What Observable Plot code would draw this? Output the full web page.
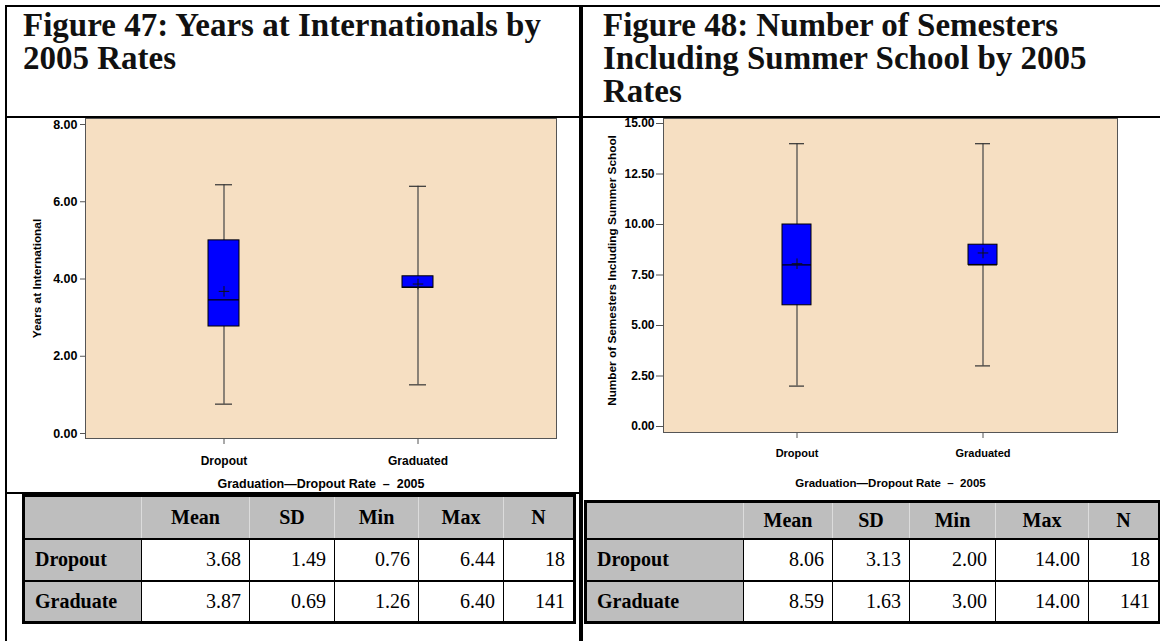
<!DOCTYPE html>
<html>
<head>
<meta charset="utf-8">
<script src="https://cdn.jsdelivr.net/npm/d3@7"></script>
<script src="https://cdn.jsdelivr.net/npm/@observablehq/plot@0.6"></script>
<style>
html, body { margin: 0; padding: 0; background: #fff; }
#page { position: relative; width: 1160px; height: 641px; overflow: hidden; background: #fff; }
.line { position: absolute; background: #000; }
.title { position: absolute; top: 9px; font-family: "Liberation Serif", "Times New Roman", serif; font-weight: bold; font-size: 33px; line-height: 33px; white-space: nowrap; color: #111; }
.chart { position: absolute; top: 118px; }
.chart svg { overflow: visible; }
table.stats { position: absolute; border-collapse: collapse; table-layout: fixed; font-family: "Liberation Serif", "Times New Roman", serif; font-size: 20px; color: #000; border: 3px solid #000; }
table.stats th, table.stats td { padding: 0; border: 1px solid #000; border-top-width: 2px; border-bottom-width: 2px; vertical-align: middle; }
table.stats th { background: #BEBEBE; font-weight: bold; text-align: center; border-left-color: #dcdcdc; border-right-color: #dcdcdc; }
table.stats td.lab { background: #BEBEBE; font-weight: bold; text-align: left; padding-left: 10px; }
table.stats td.num { text-align: right; padding-right: 8px; background: #fff; }
</style>
</head>
<body>
<div id="page">
  <div class="title" style="left:23px">Figure 47: Years at Internationals by<br>2005 Rates</div>
  <div class="title" style="left:603px">Figure 48: Number of Semesters<br>Including Summer School by 2005<br>Rates</div>
  <div class="chart" id="chart47" style="left:7px"></div>
  <div class="chart" id="chart48" style="left:584px"></div>
  <table class="stats" id="table47" style="left:22px; top:494px; width:551px"></table>
  <table class="stats" id="table48" style="left:584px; top:500px; width:574px"></table>
  <div class="line" style="left:5px; top:5px; width:1155px; height:2px"></div>
  <div class="line" style="left:5px; top:5px; width:2px; height:636px"></div>
  <div class="line" style="left:579px; top:5px; width:4px; height:636px"></div>
  <div class="line" style="left:5px; top:116px; width:1155px; height:2px"></div>
  <div class="line" style="left:5px; top:492px; width:576px; height:2px"></div>
</div>
<script>
// ---- Data ----
const groups = ["Dropout", "Graduated"];

// Figure 47: Years at International (box plot statistics)
const yearsMin = [0.76, 1.26];
const yearsQ1 = [2.77, 3.77];
const yearsMedian = [3.46, 3.79];
const yearsQ3 = [5.00, 4.07];
const yearsMax = [6.44, 6.40];
const yearsMean = [3.68, 3.87];
const yearsTicks = [0, 2, 4, 6, 8];

// Figure 48: Number of Semesters Including Summer School
const semMin = [2, 3];
const semQ1 = [6, 8];
const semMedian = [8, 8];
const semQ3 = [10, 9];
const semMax = [14, 14];
const semMean = [8.06, 8.59];
const semTicks = [0, 2.5, 5, 7.5, 10, 12.5, 15];

// Summary tables
const tableRows = ["Dropout", "Graduate"];
const tableCols = ["Mean", "SD", "Min", "Max", "N"];
const fig47Table = [["3.68", "1.49", "0.76", "6.44", "18"], ["3.87", "0.69", "1.26", "6.40", "141"]];
const fig48Table = [["8.06", "3.13", "2.00", "14.00", "18"], ["8.59", "1.63", "3.00", "14.00", "141"]];
const fig47ColWidths = [118, 108, 85, 84, 85, 71];
const fig48ColWidths = [158, 89, 77, 86, 93, 71];

const xTitle = "Graduation\u2014Dropout Rate\u00a0\u00a0\u2013\u00a0\u00a02005";

function rowsOf(mn, q1, med, q3, mx, mean) {
  return groups.map((g, i) => ({group: g, min: mn[i], q1: q1[i], median: med[i], q3: q3[i], max: mx[i], mean: mean[i]}));
}

function boxChart(o) {
  const rows = o.rows;
  return Plot.plot({
    width: o.width, height: o.height,
    marginTop: 0, marginLeft: o.marginLeft, marginRight: o.marginRight, marginBottom: o.marginBottom,
    style: {fontFamily: "'Liberation Sans', Arial, sans-serif", fontSize: o.fontSize + "px", fontWeight: "bold", background: "transparent", color: "#000"},
    x: {type: "band", domain: groups, paddingInner: o.pi, paddingOuter: o.po, label: null},
    y: {domain: o.domain, insetTop: o.insetTop, insetBottom: o.insetBottom, label: null},
    marks: [
      Plot.frame({fill: "#F6DFC2", stroke: "#555"}),
      Plot.axisY({ticks: o.ticks, tickFormat: d3.format(".2f"), tickSize: o.yTickSize, tickPadding: o.yTickPadding, stroke: "#555", fontSize: o.yTickFont, label: null}),
      Plot.axisX({tickSize: 6, tickPadding: o.xTickPadding, stroke: "#555", label: null}),
      Plot.ruleX(rows, {x: "group", y1: "min", y2: "max", stroke: "#444", strokeWidth: 1.2}),
      Plot.barY(rows, {x: "group", y1: "q1", y2: "q3", fill: "#0000FF", stroke: "#000", strokeWidth: 1}),
      Plot.tickY(rows, {x: "group", y: "median", stroke: "#000", strokeWidth: 1.2}),
      Plot.tickY(rows, {x: "group", y: "min", stroke: "#333", strokeWidth: 1.2, insetLeft: 7, insetRight: 7}),
      Plot.tickY(rows, {x: "group", y: "max", stroke: "#333", strokeWidth: 1.2, insetLeft: 7, insetRight: 7}),
      Plot.dot(rows, {x: "group", y: "mean", symbol: "plus", r: 3.5, stroke: "#111", strokeWidth: 1}),
      Plot.text([xTitle], {text: d => d, frameAnchor: "bottom", dy: o.xTitleDy, fontSize: o.fontSize + 0.5, lineAnchor: "middle", textAnchor: "middle"}),
      Plot.text([o.yLabel], {text: d => d, frameAnchor: "left", rotate: -90, dx: o.yLabelDx, dy: o.yLabelDy, fontSize: o.yLabelSize, lineAnchor: "middle", textAnchor: "middle"})
    ]
  });
}

document.getElementById("chart47").appendChild(boxChart({
  rows: rowsOf(yearsMin, yearsQ1, yearsMedian, yearsQ3, yearsMax, yearsMean),
  width: 572, height: 375, marginLeft: 78, marginRight: 23, marginBottom: 55,
  fontSize: 12, yTickFont: 12.5, pi: 0.84, po: 0.63, domain: [0, 8], ticks: yearsTicks,
  insetTop: 6, insetBottom: 5, yTickSize: 5, yTickPadding: 3, xTickPadding: 12,
  xTitleDy: 45, yLabel: "Years at International", yLabelDx: -48, yLabelDy: 0, yLabelSize: 11.8
}));

document.getElementById("chart48").appendChild(boxChart({
  rows: rowsOf(semMin, semQ1, semMedian, semQ3, semMax, semMean),
  width: 576, height: 375, marginLeft: 79, marginRight: 43, marginBottom: 61,
  fontSize: 11, yTickFont: 12, pi: 0.842, po: 0.64, domain: [0, 15], ticks: semTicks,
  insetTop: 5, insetBottom: 6, yTickSize: 7, yTickPadding: 2, xTickPadding: 11,
  xTitleDy: 51, yLabel: "Number of Semesters Including Summer School", yLabelDx: -51, yLabelDy: -5, yLabelSize: 11.8
}));

function buildTable(id, values, widths, headH) {
  const t = d3.select("#" + id);
  const cg = t.append("colgroup");
  widths.forEach(w => cg.append("col").style("width", w + "px"));
  const hr = t.append("tr").style("height", headH + "px");
  hr.append("th").html("&nbsp;");
  tableCols.forEach(c => hr.append("th").text(c));
  tableRows.forEach((r, i) => {
    const tr = t.append("tr").style("height", "42px");
    tr.append("td").attr("class", "lab").text(r);
    values[i].forEach(v => tr.append("td").attr("class", "num").text(v));
  });
}
buildTable("table47", fig47Table, fig47ColWidths, 43);
buildTable("table48", fig48Table, fig48ColWidths, 37);
</script>
</body>
</html>
